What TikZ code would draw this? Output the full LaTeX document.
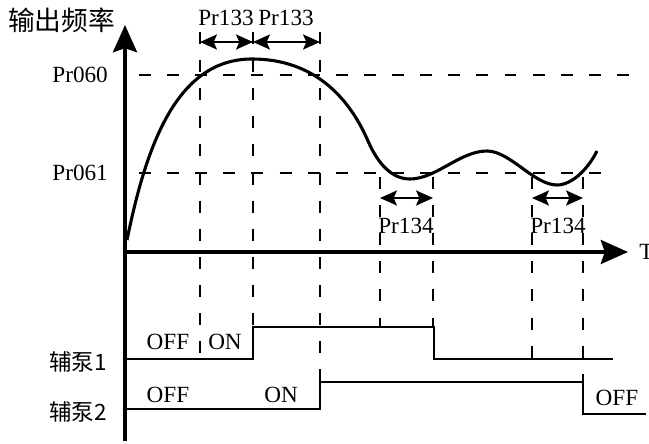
\documentclass[tikz,border=0pt]{standalone}
\usepackage{fontspec}
\setmainfont{Liberation Serif}
\newfontfamily\cjk{Noto Sans CJK SC}
\usetikzlibrary{arrows.meta}
\definecolor{PumpInk}{HTML}{000000}

\begin{document}
\begin{tikzpicture}[line width=2.1pt,draw=PumpInk,text=PumpInk,
    >={Stealth[length=0.42cm,width=0.37cm,inset=0.08cm]},
    axisarrow/.style={-{Stealth[length=0.68cm,width=0.6cm,inset=0.1cm]},line width=2.5pt},
    guide/.style={line width=2pt,dash pattern=on 8.5pt off 11.5pt},
    parlabel/.style={font=\fontsize{16.5}{18}\selectfont},
    cnlabel/.style={font=\cjk\fontsize{16}{18}\selectfont}]
  \useasboundingbox (0,0) rectangle (16.225,11.075);

  % axes
  \coordinate (O) at (3.125,0.05);
  \coordinate (Ytop) at (3.125,10.45);
  \coordinate (Tleft) at (3.125,4.775);
  \coordinate (Tright) at (15.7,4.775);
  \draw[axisarrow] (O) -- (Ytop);
  \draw[axisarrow] (Tleft) -- (Tright);
  \node[font=\cjk\fontsize{19}{21}\selectfont] (ylab) at (1.54,10.575) {输出频率};
  \node[parlabel,anchor=west,inner sep=0pt] (tlab) at (15.95,4.775) {T};

  % frequency thresholds
  \node[parlabel,anchor=east] (p060) at (2.85,9.2) {Pr060};
  \node[parlabel,anchor=east] (p061) at (2.85,6.75) {Pr061};
  \coordinate (H1) at (16.0,9.2);
  \coordinate (H2) at (15.2,6.75);
  \draw[guide] (3.475,9.2) -- (H1);
  \draw[guide] (3.475,6.75) -- (H2);

  % output frequency
  \draw[line width=2.2pt] (3.175,5.075)
    .. controls (3.65,7.4) and (4.4,9.6) .. (6.3,9.6)
    .. controls (7.8,9.6) and (8.7,8.7) .. (9.2,7.55)
    .. controls (9.45,6.975) and (9.8,6.6) .. (10.25,6.6)
    .. controls (10.9,6.6) and (11.5,7.3) .. (12.175,7.3)
    .. controls (12.75,7.3) and (13.35,6.45) .. (13.925,6.45)
    .. controls (14.3,6.45) and (14.7,6.85) .. (14.925,7.3);

  % time marks
  \draw[guide] (5.0,10.275) -- (5.0,2.1);
  \draw[guide] (6.325,10.275) -- (6.325,2.9);
  \draw[guide] (8.0,10.275) -- (8.0,1.525);
  \draw[guide] (9.5,6.65) -- (9.5,2.9);
  \draw[guide] (10.825,6.65) -- (10.825,2.9);
  \draw[guide] (13.3,6.65) -- (13.3,2.1);
  \draw[guide] (14.575,6.65) -- (14.575,1.525);

  % delay intervals
  \coordinate (a1) at (5.0,10.025);
  \coordinate (a2) at (6.325,10.025);
  \coordinate (a3) at (8.0,10.025);
  \draw[<->] (a1) -- (a2);
  \draw[<->] (a2) -- (a3);
  \node[parlabel] (d1) at (5.65,10.625) {Pr133};
  \node[parlabel] (d2) at (7.15,10.625) {Pr133};
  \coordinate (b1) at (9.5,6.125);
  \coordinate (b2) at (10.825,6.125);
  \coordinate (b3) at (13.3,6.125);
  \coordinate (b4) at (14.575,6.125);
  \draw[<->] (b1) -- (b2);
  \draw[<->] (b3) -- (b4);
  \node[parlabel] (e1) at (10.15,5.425) {Pr134};
  \node[parlabel] (e2) at (13.95,5.425) {Pr134};

  % auxiliary pumps
  \node[cnlabel,anchor=east] (pump1) at (2.825,2.025) {辅泵1};
  \node[cnlabel,anchor=east] (pump2) at (2.825,0.775) {辅泵2};
  \draw (3.125,2.1) -- (6.325,2.1) -- (6.325,2.9)
    -- (10.85,2.9) -- (10.85,2.1) -- (15.325,2.1);
  \draw (3.125,0.85) -- (8.0,0.85) -- (8.0,1.525)
    -- (14.575,1.525) -- (14.575,0.725) -- (16.15,0.725);
  \node[parlabel] (s1) at (4.2,2.525) {OFF};
  \node[parlabel] (s2) at (5.625,2.525) {ON};
  \node[parlabel] (s3) at (4.2,1.2) {OFF};
  \node[parlabel] (s4) at (7.025,1.2) {ON};
  \node[parlabel] (s5) at (15.425,1.125) {OFF};
\end{tikzpicture}
\end{document}
